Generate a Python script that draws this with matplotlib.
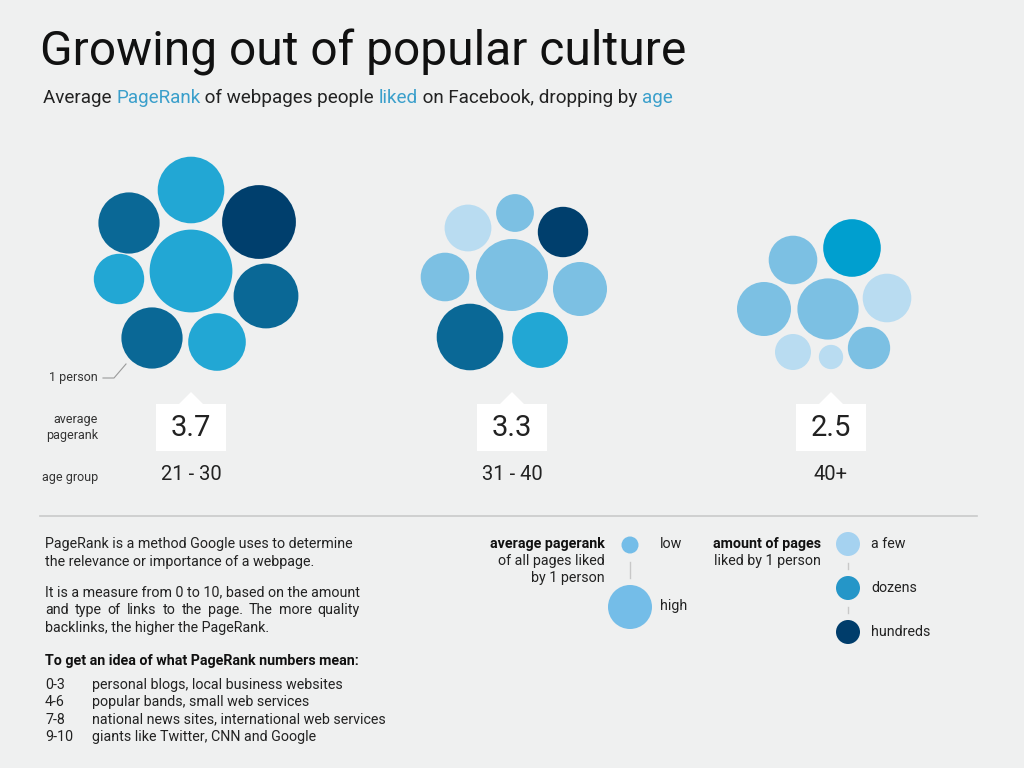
import matplotlib
matplotlib.use("Agg")
import matplotlib.pyplot as plt
from matplotlib.patches import Circle, Polygon

# --- data -------------------------------------------------------------
age_groups = ["21 - 30", "31 - 40", "40+"]
avg_pagerank = ["3.7", "3.3", "2.5"]

# average pagerank of the pages each person liked (one circle = 1 person)
person_rank_2130 = [3.7, 3.4, 4.1, 4.6, 2.8, 3.6, 3.4, 3.2]
person_rank_3140 = [2.6, 2.1, 2.8, 2.7, 4.0, 3.0, 3.7, 3.1]
person_rank_40 = [2.7, 3.2, 3.0, 3.4, 2.7, 2.0, 1.35, 2.35]

# amount of pages liked, 0 = a few ... 5 = hundreds
person_amount_2130 = [2, 4, 5, 2, 2, 4, 4, 2]
person_amount_3140 = [0, 1, 5, 1, 1, 1, 4, 2]
person_amount_40 = [1, 3, 1, 1, 0, 0, 0, 1]

rank_ranges = ["0-3", "4-6", "7-8", "9-10"]
rank_examples = ["personal blogs, local business websites",
                 "popular bands, small web services",
                 "national news sites, international web services",
                 "giants like Twitter, CNN and Google"]

# --- layout / style ---------------------------------------------------
BG = "#eff0f0"
BLUE_TXT = "#3a9fcb"
amount_colors = ["#b9dcf1", "#7cc0e3", "#22a7d4", "#009fcf", "#0a6896", "#003f6d"]
RADIUS_PER_RANK = 9.0
FONT = "Roboto"

group_centers = [191, 512, 831]
# circle offsets relative to each group's anchor (x, y in pixels)
layout_2130 = [(0, -81), (-62, -48), (68, -49), (0, 0), (-72, 8), (75, 25), (-39, 67), (26, 71)]
layout_3140 = [(-44, -47), (3, -62), (51, -43), (-67, 2), (0, 0), (68, 14), (-42, 62), (28, 65)]
layout_40 = [(-38, -49), (21, -61), (-67, 0), (-3, 0), (56, -11), (-38, 43), (0, 48), (38, 39)]

group_ranks = [person_rank_2130, person_rank_3140, person_rank_40]
group_amounts = [person_amount_2130, person_amount_3140, person_amount_40]
group_layouts = [layout_2130, layout_3140, layout_40]
group_anchor_y = [271, 275, 309]

fig = plt.figure(figsize=(10.24, 7.68), dpi=100)
fig.patch.set_facecolor(BG)
ax = fig.add_axes([0, 0, 1, 1])
ax.set_xlim(0, 1024)
ax.set_ylim(768, 0)
ax.axis("off")
ax.set_facecolor(BG)

fig.canvas.draw()
renderer = fig.canvas.get_renderer()


def text_width(t):
    return t.get_window_extent(renderer=renderer).width


def colored_line(x, y, parts, size):
    for s, c in parts:
        t = ax.text(x, y, s, fontsize=size, color=c, family=FONT, va="baseline")
        x += text_width(t)


def justified(x, y, line, width, size):
    words = line.split(" ")
    ts = [ax.text(0, y, w, fontsize=size, family=FONT, color="#222222", va="baseline") for w in words]
    ws = [text_width(t) for t in ts]
    gap = (width - sum(ws)) / (len(words) - 1)
    for t, w in zip(ts, ws):
        t.set_x(x)
        x += w + gap


# title
ax.text(40, 65, "Growing out of popular culture", fontsize=34.5, family=FONT,
        color="#111111", va="baseline")
colored_line(43, 103, [("Average ", "#222222"), ("PageRank", BLUE_TXT),
                       (" of webpages people ", "#222222"), ("liked", BLUE_TXT),
                       (" on Facebook, dropping by ", "#222222"), ("age", BLUE_TXT)], 13.6)

# bubble groups
for gx, gy, ranks, amounts, lay in zip(group_centers, group_anchor_y, group_ranks,
                                        group_amounts, group_layouts):
    for r, a, (dx, dy) in zip(ranks, amounts, lay):
        ax.add_patch(Circle((gx + dx, gy + dy), r * RADIUS_PER_RANK,
                            facecolor=amount_colors[a], edgecolor="none"))

# pagerank boxes and age labels
for gx, val, age in zip(group_centers, avg_pagerank, age_groups):
    box = [(gx - 35, 404), (gx - 12, 404), (gx, 392), (gx + 12, 404), (gx + 35, 404),
           (gx + 35, 451), (gx - 35, 451)]
    ax.add_patch(Polygon(box, closed=True, facecolor="white", edgecolor="none"))
    ax.text(gx, 428, val, fontsize=21, family=FONT, color="#222222",
            ha="center", va="center")
    ax.text(gx, 475, age, fontsize=14.5, family=FONT, color="#222222", ha="center", va="center")

small = dict(fontsize=9, family=FONT, color="#333333", ha="right", va="center")
ax.text(98, 378, "1 person", **small)
ax.plot([103, 114, 126], [378, 378, 364], color="#9a9a9a", lw=0.8)
ax.text(98, 427, "average\npagerank", linespacing=1.3, **small)
ax.text(98, 478, "age group", **small)

# separator
ax.plot([40, 977], [516, 516], color="#c9caca", lw=1.2)

# explanation text
BODY = 10.3
body = dict(fontsize=BODY, family=FONT, color="#222222", va="baseline")
ax.text(45, 548, "PageRank is a method Google uses to determine", **body)
ax.text(45, 566, "the relevance or importance of a webpage.", **body)
t = ax.text(45, 596, "It is a measure from 0 to 10, based on the amount", **body)
w = text_width(t)
justified(45, 614, "and type of links to the page. The more quality", w, BODY)
ax.text(45, 632, "backlinks, the higher the PageRank.", **body)
ax.text(45, 665, "To get an idea of what PageRank numbers mean:", fontsize=BODY, family=FONT,
        weight="bold", color="#111111", va="baseline")
for i, (rng, ex) in enumerate(zip(rank_ranges, rank_examples)):
    yy = 689 + i * 17.3
    ax.text(45, yy, rng, **body)
    ax.text(92, yy, ex, **body)

# legend: average pagerank
leg = dict(fontsize=10.3, family=FONT, color="#222222", va="center")
bold = dict(fontsize=10.3, family=FONT, color="#111111", va="center", weight="bold", ha="right")
ax.text(605, 544, "average pagerank", **bold)
ax.text(605, 561, "of all pages liked", ha="right", **leg)
ax.text(605, 578, "by 1 person", ha="right", **leg)
ax.add_patch(Circle((630, 545), 8.5, facecolor="#74bde8", edgecolor="none"))
ax.add_patch(Circle((630, 607), 22, facecolor="#74bde8", edgecolor="none"))
ax.plot([630, 630], [562, 578], color="#c8c8c8", lw=1)
ax.text(660, 544, "low", **leg)
ax.text(660, 606, "high", **leg)

# legend: amount of pages
ax.text(821, 544, "amount of pages", **bold)
ax.text(821, 561, "liked by 1 person", ha="right", **leg)
legend_amounts = ["a few", "dozens", "hundreds"]
legend_colors = ["#a5d2f0", "#2596c8", "#003d6b"]
for i, (lab, col) in enumerate(zip(legend_amounts, legend_colors)):
    yy = 544 + i * 44
    ax.add_patch(Circle((848, yy), 12, facecolor=col, edgecolor="none"))
    ax.text(871, yy, lab, **leg)
    if i < 2:
        ax.plot([848, 848], [yy + 19, yy + 25], color="#c8c8c8", lw=1)

fig.savefig("out.png", dpi=100, facecolor=BG)
